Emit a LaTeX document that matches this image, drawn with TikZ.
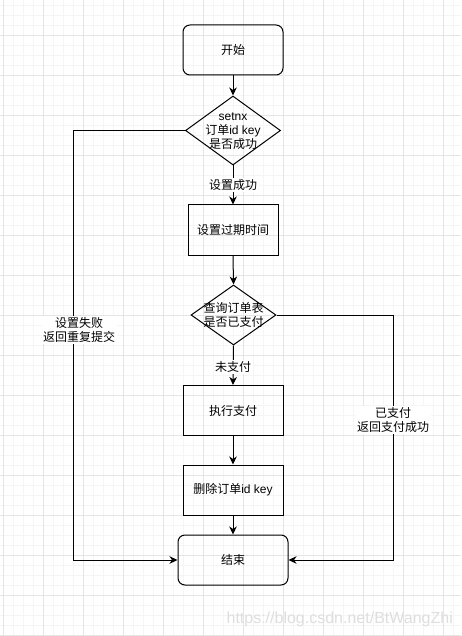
\documentclass[tikz,border=0pt]{standalone}
\usepackage{fontspec}
\setmainfont{Liberation Sans}
\newfontfamily\cjk{Noto Sans CJK SC}
\usetikzlibrary{shapes.geometric,arrows.meta}
\begin{document}
\begin{tikzpicture}[x=1pt,y=-1pt,
  every node/.style={font=\fontsize{12}{14}\selectfont},
  minorgrid/.style={draw=black!4,line width=0.6pt},
  majorgrid/.style={draw=black!10,line width=0.8pt},
  flowline/.style={line width=1pt,draw=black},
  arr/.style={flowline,-{Stealth[length=8pt,width=7.5pt,inset=2.5pt]}},
  roundbox/.style={draw,line width=1pt,rounded corners=7pt,minimum width=#1,minimum height=50pt,inner sep=0pt},
  sqbox/.style={draw,line width=1pt,minimum width=#1,minimum height=50pt,inner sep=0pt},
  decision/.style={diamond,draw,line width=1pt,inner sep=0pt},
  txt/.style={align=center,inner sep=0pt},
  cjktxt/.style={font=\fontsize{12}{14}\selectfont\cjk},
  edgelabel/.style={fill=white,align=center,inner sep=1.5pt,cjktxt}]
\useasboundingbox (0,0) rectangle (461,636);
\fill[white] (0,0) rectangle (461,636);
% grid
\foreach \x in {3,13,...,453} \draw[minorgrid] (\x,0) -- (\x,636);
\foreach \y in {5,15,...,635} \draw[minorgrid] (0,\y) -- (461,\y);
\foreach \x in {3,43,...,443} \draw[majorgrid] (\x,0) -- (\x,636);
\foreach \y in {35,75,...,635} \draw[majorgrid] (0,\y) -- (461,\y);
% nodes
\node[roundbox=100pt,cjktxt] (start) at (233,50) {开始};
\node[decision,minimum width=95pt,minimum height=69pt] (d1) at (233,130.5) {};
\node[txt] (d1t) at (233,131) {setnx\\{\cjk 订单}id key\\{\cjk 是否成功}};
\node[sqbox=90pt,cjktxt] (b2) at (233,230) {设置过期时间};
\node[decision,minimum width=85pt,minimum height=60pt] (d2) at (233.5,315) {};
\node[txt,cjktxt] (d2t) at (233.5,315) {查询订单表\\是否已支付};
\node[sqbox=100pt,cjktxt] (b3) at (233,410.5) {执行支付};
\node[sqbox=100pt] (b4) at (233,490) {{\cjk 删除订单}id key};
\node[roundbox=110pt,cjktxt] (end) at (233,560) {结束};
\coordinate (lc) at (73,130.5);
\coordinate (rc) at (393,315);
% connectors
\draw[arr] (start.south) -- (d1.north);
\draw[arr] (d1.south) -- (b2.north);
\node[edgelabel] (l1) at (233,185) {设置成功};
\draw[arr] (b2.south) -- (d2.north);
\draw[arr] (d2.south) -- (b3.north);
\node[edgelabel] (l2) at (233,367) {未支付};
\draw[arr] (b3.south) -- (b4.north);
\draw[arr] (b4.south) -- (end.north);
\draw[arr] (d1.west) -- (lc) |- (end.west);
\node[edgelabel] (l3) at (79,330) {设置失败\\返回重复提交};
\draw[arr] (d2.east) -- (rc) |- (end.east);
\node[edgelabel] (l4) at (393,420) {已支付\\返回支付成功};
% watermark
\node[anchor=base east,inner sep=0pt,text=black!13,font=\fontsize{16}{20}\selectfont] (wm) at (453,623) {https://blog.csdn.net/BtWangZhi};
\end{tikzpicture}
\end{document}
